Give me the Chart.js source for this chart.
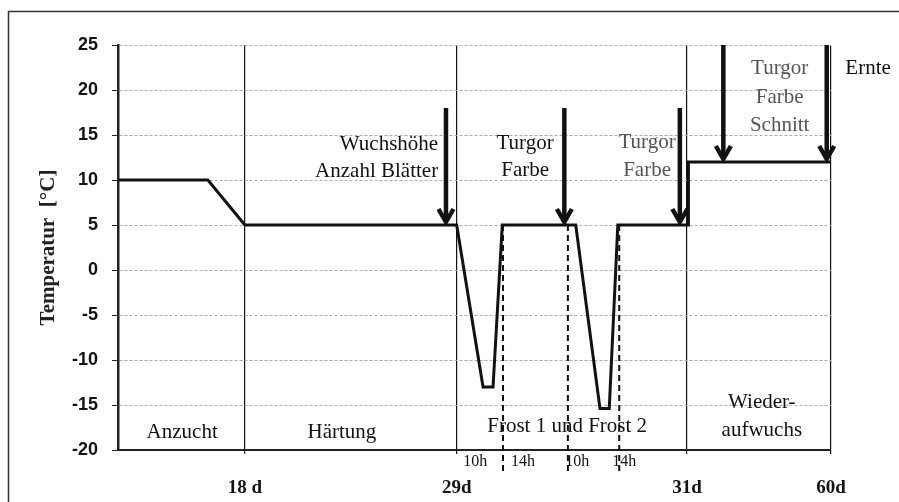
<!DOCTYPE html>
<html>
<head>
<meta charset="utf-8">
<script src="https://cdn.jsdelivr.net/npm/chart.js@4.4.1/dist/chart.umd.min.js"></script>
<style>
  html, body { margin: 0; padding: 0; background: #fff; }
  #wrap { width: 899px; height: 502px; }
</style>
</head>
<body>
<div id="wrap"><canvas id="chart" width="899" height="502"></canvas></div>
<script>
// schematic time axis: 0..100, phase boundaries placed as in the figure
const dayPos    = [17.8, 47.5, 79.8, 100];
const dayLabels = ['18 d', '29d', '31d', '60d'];

// temperature course
const tempX = [0, 12.6, 17.8, 47.5, 51.2, 52.6, 53.9, 64.2, 67.6, 68.9, 70.1, 80.0, 80.0, 100];
const tempY = [10, 10, 5, 5, -13, -13, 5, 5, -15.4, -15.4, 5, 5, 12, 12];

// 10h / 14h frost windows
const frostLines  = [54.0, 63.1, 70.3];
const hourPos     = [50.1, 56.8, 64.4, 71.0];
const hourLabels  = ['10h', '14h', '10h', '14h'];

// sampling arrows
const arrowX      = [46.0, 62.6, 78.8, 84.9, 99.4];
const arrowTop    = [18, 18, 18, 25, 25];
const arrowBottom = [5, 5, 5, 12, 12];

const serif = '"Liberation Serif", "Times New Roman", serif';

const notes = [
  { text: 'Anzucht', x: 9.0, y: -18 },
  { text: 'Härtung', x: 31.4, y: -18 },
  { text: 'Frost 1 und Frost 2', x: 63.0, y: -17.4 },
  { text: 'Wieder-', x: 90.3, y: -14.7 },
  { text: 'aufwuchs', x: 90.3, y: -17.8 },
  { text: 'Wuchshöhe', x: 44.9, y: 13.9, align: 'right' },
  { text: 'Anzahl Blätter', x: 44.9, y: 10.9, align: 'right' },
  { text: 'Turgor', x: 57.1, y: 14.1 },
  { text: 'Farbe', x: 57.1, y: 11.1 },
  { text: 'Turgor', x: 74.2, y: 14.2, color: '#555' },
  { text: 'Farbe', x: 74.2, y: 11.1, color: '#555' },
  { text: 'Turgor', x: 92.8, y: 22.4, color: '#555' },
  { text: 'Farbe', x: 92.8, y: 19.2, color: '#555' },
  { text: 'Schnitt', x: 92.8, y: 16.1, color: '#555' },
  { text: 'Ernte', x: 105.2, y: 22.4 }
];

const frame = {
  id: 'frame',
  beforeDraw(chart) {
    const ctx = chart.ctx;
    ctx.save();
    ctx.strokeStyle = '#333';
    ctx.lineWidth = 1.5;
    ctx.strokeRect(8.5, 11.5, 1000, 1000);
    ctx.restore();
  }
};

const extras = {
  id: 'extras',
  afterDatasetsDraw(chart) {
    const { ctx, chartArea } = chart;
    const xs = chart.scales.x, ys = chart.scales.y;
    ctx.save();

    // dashed frost window lines
    ctx.strokeStyle = '#111';
    ctx.lineWidth = 2;
    ctx.setLineDash([6, 4]);
    frostLines.forEach(v => {
      const px = xs.getPixelForValue(v);
      ctx.beginPath();
      ctx.moveTo(px, ys.getPixelForValue(5));
      ctx.lineTo(px, chartArea.bottom + 22);
      ctx.stroke();
    });
    ctx.setLineDash([]);

    // hour labels under the axis
    ctx.fillStyle = '#111';
    ctx.font = '16px ' + serif;
    ctx.textAlign = 'center';
    ctx.textBaseline = 'middle';
    hourPos.forEach((v, i) => {
      ctx.fillText(hourLabels[i], xs.getPixelForValue(v), chartArea.bottom + 12);
    });

    // arrows
    ctx.lineWidth = 4.5;
    ctx.lineCap = 'butt';
    arrowX.forEach((v, i) => {
      const px = xs.getPixelForValue(v);
      const t = ys.getPixelForValue(arrowTop[i]);
      const b = ys.getPixelForValue(arrowBottom[i]) - 3;
      ctx.beginPath();
      ctx.moveTo(px, t);
      ctx.lineTo(px, b - 2);
      ctx.stroke();
      ctx.beginPath();
      ctx.moveTo(px - 7.5, b - 13);
      ctx.lineTo(px, b);
      ctx.lineTo(px + 7.5, b - 13);
      ctx.stroke();
    });

    // text notes
    ctx.font = '21px ' + serif;
    notes.forEach(n => {
      ctx.fillStyle = n.color || '#111';
      ctx.textAlign = n.align || 'center';
      ctx.fillText(n.text, xs.getPixelForValue(n.x), ys.getPixelForValue(n.y));
    });
    ctx.restore();
  }
};

new Chart(document.getElementById('chart'), {
  type: 'line',
  data: {
    datasets: [{
      data: tempX.map((x, i) => ({ x, y: tempY[i] })),
      borderColor: '#111',
      borderWidth: 3,
      pointRadius: 0,
      tension: 0,
      borderJoinStyle: 'miter'
    }]
  },
  options: {
    responsive: false,
    animation: false,
    events: [],
    layout: { padding: { left: 0, right: 68, top: 45, bottom: 0 } },
    plugins: { legend: { display: false }, tooltip: { enabled: false } },
    scales: {
      x: {
        type: 'linear',
        min: 0,
        max: 100,
        afterBuildTicks: s => { s.ticks = dayPos.map(v => ({ value: v })); },
        afterFit: s => { s.height = 52; },
        ticks: {
          autoSkip: false,
          maxRotation: 0,
          padding: 23,
          color: '#111',
          font: { family: serif, size: 19, weight: 'bold' },
          callback: v => dayLabels[dayPos.indexOf(v)]
        },
        grid: { color: '#111', lineWidth: 1.2, tickLength: 4, tickColor: '#111' },
        border: { color: '#222', width: 2 }
      },
      y: {
        min: -20,
        max: 25,
        afterFit: s => { s.width = 118; },
        ticks: {
          stepSize: 5,
          padding: 14,
          color: '#111',
          font: { family: '"Liberation Sans", Arial, sans-serif', size: 18, weight: 'bold' }
        },
        grid: {
          color: c => (c.tick && c.tick.value === -20 ? 'rgba(0,0,0,0)' : '#aaa'),
          lineWidth: 1,
          tickLength: 6,
          tickColor: '#222'
        },
        border: { color: '#222', width: 2.5, dash: [3, 2] },
        title: {
          display: true,
          text: 'Temperatur  [°C]',
          color: '#222',
          font: { family: serif, size: 21, weight: 'bold' },
          padding: { top: 36, bottom: 0 }
        }
      }
    }
  },
  plugins: [frame, extras]
});
</script>
</body>
</html>
